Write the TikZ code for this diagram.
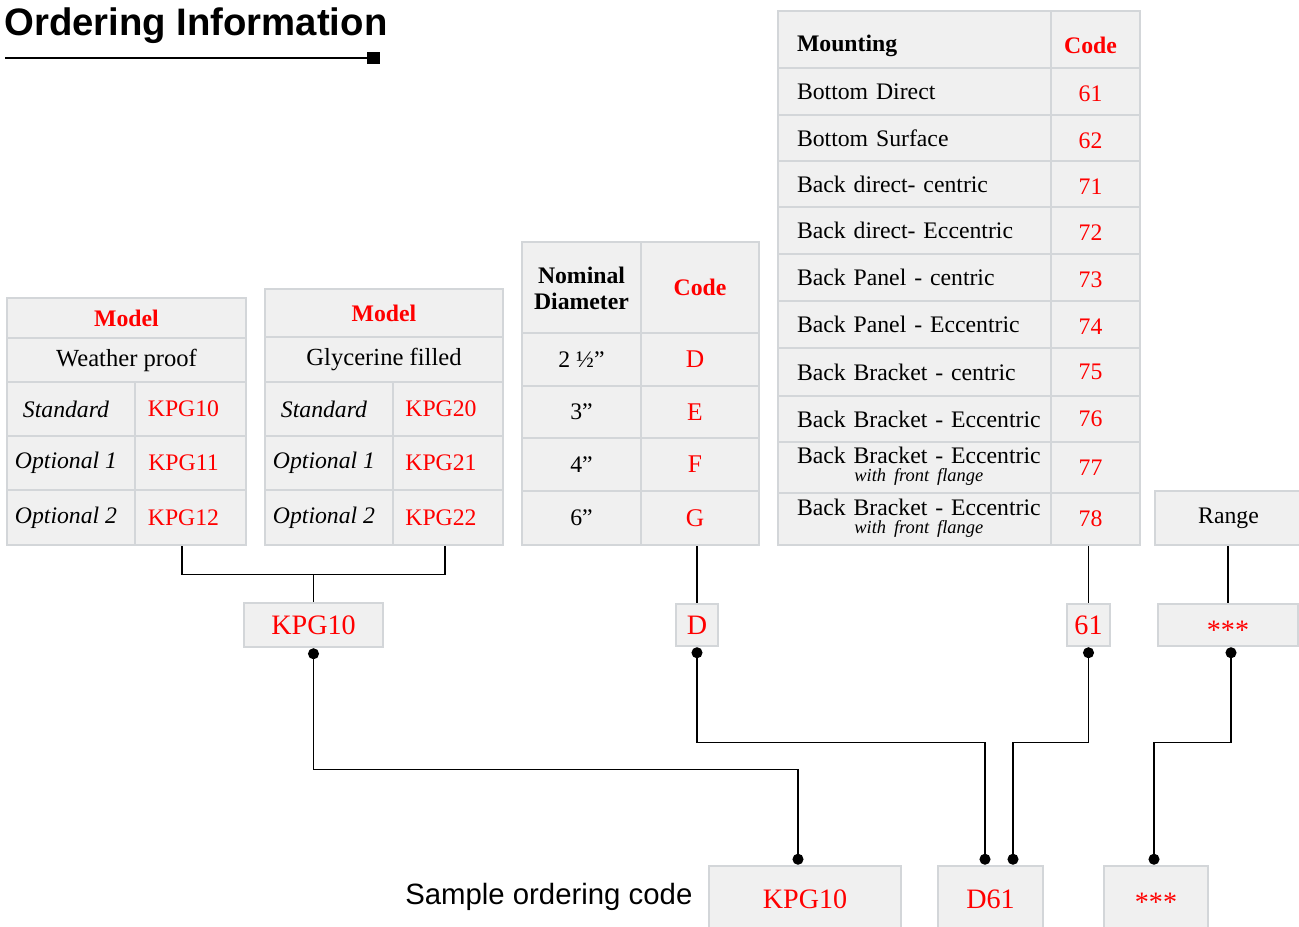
\documentclass[tikz,border=0pt]{standalone}
\usepackage{fontspec}
\setmainfont{Liberation Serif}
\newfontfamily\arialfont{Liberation Sans}
\usepackage{tikz}
\usetikzlibrary{arrows.meta, calc}

\definecolor{cellfill}{RGB}{240,240,240}
\definecolor{cellline}{RGB}{211,214,217}
\definecolor{codered}{RGB}{255,0,0}
\newcommand{\cellfont}{\fontsize{13.5}{15}\selectfont}
\newcommand{\midfont}{\fontsize{16}{18}\selectfont}
\newcommand{\dropby}[2]{\raisebox{-#1}[\height][\depth]{#2}}
\newcommand{\flange}[1]{\begin{tabular}{@{}c@{}}#1\\[-4.5pt]{\fontsize{10.5}{12}\selectfont\itshape with front flange}\end{tabular}}

\tikzset{
  nudge/.store in=\nudgeamt,
  cell/.style 2 args={draw=cellline, fill=cellfill, line width=0.5mm, inner sep=0pt,
    minimum width=#1, minimum height=#2, font=\cellfont, nudge=0mm,
    execute at end node={\hspace{\nudgeamt}}},
  mcell/.style={cell={54.6mm}{#1}, text width=54.6mm, align=left,
    execute at begin node={\hspace*{3.8mm}}},
  codetxt/.style={text=codered, nudge=2mm},
  codehead/.style={text=codered, font=\cellfont\bfseries},
  variant/.style={font=\cellfont\itshape, nudge=2mm},
  modelname/.style={font=\fontsize{14}{16}\selectfont},
  link/.style={line width=0.7pt},
  dotlink/.style={link, {Circle[length=2.2mm]}-{Circle[length=2.2mm]}},
}

\begin{document}
\begin{tikzpicture}[x=0.2mm, y=-0.2mm]
    \useasboundingbox (0,0) rectangle (1299,927);

    % title
    \node[anchor=base west, inner sep=0pt, font=\arialfont\bfseries\fontsize{21.8}{26}\selectfont] (title) at (4,36) {Ordering Information};
    \coordinate (ruleStart) at (5,58);
    \node[fill=black, minimum width=2.6mm, minimum height=2.4mm, inner sep=0pt] (ruleEnd) at (373.5,58) {};
    \draw[line width=0.5mm] (ruleStart) -- (ruleEnd.center);

    % weather proof
    \node[cell={47.8mm}{8mm}, codehead] (wpHead) at (126.5,318) {Model};
    \node[cell={47.8mm}{8.8mm}, modelname] (wpName) at (126.5,360) {Weather proof};
    \node[cell={25.6mm}{10.8mm}, variant] (wpStd) at (71,409) {Standard};
    \node[cell={22.2mm}{10.8mm}, codetxt, nudge=2.8mm] (wpStdCode) at (190.5,409) {KPG10};
    \node[cell={25.6mm}{10.8mm}, variant] (wpOptA) at (71,463) {Optional 1};
    \node[cell={22.2mm}{10.8mm}, codetxt, nudge=2.8mm] (wpOptACode) at (190.5,463) {KPG11};
    \node[cell={25.6mm}{11mm}, variant] (wpOptB) at (71,517.5) {Optional 2};
    \node[cell={22.2mm}{11mm}, codetxt, nudge=2.8mm] (wpOptBCode) at (190.5,517.5) {KPG12};

    % glycerine filled
    \node[cell={47.6mm}{9.6mm}, codehead] (gfHead) at (384,313) {Model};
    \node[cell={47.6mm}{9mm}, modelname] (gfName) at (384,359.5) {Glycerine filled};
    \node[cell={25.6mm}{10.8mm}, variant] (gfStd) at (329,409) {Standard};
    \node[cell={22mm}{10.8mm}, codetxt, nudge=2.8mm] (gfStdCode) at (448,409) {KPG20};
    \node[cell={25.6mm}{10.8mm}, variant] (gfOptA) at (329,463) {Optional 1};
    \node[cell={22mm}{10.8mm}, codetxt, nudge=2.8mm] (gfOptACode) at (448,463) {KPG21};
    \node[cell={25.6mm}{11mm}, variant] (gfOptB) at (329,517.5) {Optional 2};
    \node[cell={22mm}{11mm}, codetxt, nudge=2.8mm] (gfOptBCode) at (448,517.5) {KPG22};

    % nominal diameter
    \node[cell={23.8mm}{18.2mm}, font=\fontsize{13.5}{14.7}\selectfont\bfseries] (ndHead) at (581.5,287.5) {\dropby{0.8mm}{\begin{tabular}{@{}c@{}}Nominal\\Diameter\end{tabular}}};
    \node[cell={23.6mm}{18.2mm}, codehead] (ndHeadCode) at (700,287.5) {Code};
    \node[cell={23.8mm}{10.6mm}] (ndA) at (581.5,359.5) {2 ½”};
    \node[cell={23.6mm}{10.6mm}, codetxt, font=\fontsize{14.5}{16}\selectfont] (ndACode) at (700,359.5) {D};
    \node[cell={23.8mm}{10.4mm}] (ndB) at (581.5,412) {3”};
    \node[cell={23.6mm}{10.4mm}, codetxt, font=\fontsize{14.5}{16}\selectfont] (ndBCode) at (700,412) {E};
    \node[cell={23.8mm}{10.6mm}] (ndC) at (581.5,464.5) {4”};
    \node[cell={23.6mm}{10.6mm}, codetxt, font=\fontsize{14.5}{16}\selectfont] (ndCCode) at (700,464.5) {F};
    \node[cell={23.8mm}{10.8mm}] (ndD) at (581.5,518) {6”};
    \node[cell={23.6mm}{10.8mm}, codetxt, font=\fontsize{14.5}{16}\selectfont] (ndDCode) at (700,518) {G};

    % mounting
    \node[mcell=11.4mm, font=\cellfont\bfseries] (mtHead) at (914.5,39.5) {\dropby{1.2mm}{Mounting}};
    \node[cell={17.8mm}{11.4mm}, codehead, nudge=2mm] (mtHeadCode) at (1095.5,39.5) {\dropby{1.2mm}{Code}};
    \node[mcell=9.4mm] (mtA) at (914.5,91.5) {Bottom Direct};
    \node[cell={17.8mm}{9.4mm}, codetxt] (mtACode) at (1095.5,91.5) {\dropby{0.5mm}{61}};
    \node[mcell=9.2mm] (mtB) at (914.5,138) {Bottom Surface};
    \node[cell={17.8mm}{9.2mm}, codetxt] (mtBCode) at (1095.5,138) {\dropby{0.5mm}{62}};
    \node[mcell=9.2mm] (mtC) at (914.5,184) {Back direct- centric};
    \node[cell={17.8mm}{9.2mm}, codetxt] (mtCCode) at (1095.5,184) {\dropby{0.5mm}{71}};
    \node[mcell=9.4mm] (mtD) at (914.5,230.5) {Back direct- Eccentric};
    \node[cell={17.8mm}{9.4mm}, codetxt] (mtDCode) at (1095.5,230.5) {\dropby{0.5mm}{72}};
    \node[mcell=9.4mm] (mtE) at (914.5,277.5) {Back Panel - centric};
    \node[cell={17.8mm}{9.4mm}, codetxt] (mtECode) at (1095.5,277.5) {\dropby{0.5mm}{73}};
    \node[mcell=9.4mm] (mtF) at (914.5,324.5) {Back Panel - Eccentric};
    \node[cell={17.8mm}{9.4mm}, codetxt] (mtFCode) at (1095.5,324.5) {\dropby{0.5mm}{74}};
    \node[mcell=9.6mm] (mtG) at (914.5,372) {Back Bracket - centric};
    \node[cell={17.8mm}{9.6mm}, codetxt] (mtGCode) at (1095.5,372) {75};
    \node[mcell=9.2mm] (mtH) at (914.5,419) {Back Bracket - Eccentric};
    \node[cell={17.8mm}{9.2mm}, codetxt] (mtHCode) at (1095.5,419) {76};
    \node[mcell=10.2mm] (mtI) at (914.5,467.5) {\flange{Back Bracket - Eccentric}};
    \node[cell={17.8mm}{10.2mm}, codetxt] (mtICode) at (1095.5,467.5) {77};
    \node[mcell=10.4mm] (mtJ) at (914.5,519) {\flange{Back Bracket - Eccentric}};
    \node[cell={17.8mm}{10.4mm}, codetxt] (mtJCode) at (1095.5,519) {78};

    % range
    \node[cell={29.4mm}{10.8mm}] (range) at (1228.5,518) {Range};

    % picked codes
    \node[cell={27.8mm}{8.8mm}, codetxt, nudge=0mm, font=\midfont] (mKPG) at (313.5,625) {KPG10};
    \node[cell={8.4mm}{8.4mm}, codetxt, nudge=0mm, font=\midfont] (mD) at (697,625) {D};
    \node[cell={8.6mm}{8.4mm}, codetxt, nudge=0mm, font=\midfont] (mMount) at (1088.5,625) {61};
    \node[cell={28mm}{8.4mm}, codetxt, nudge=0mm, font=\midfont] (mRange) at (1228,625) {\dropby{1mm}{***}};

    % sample code
    \node[cell={38.4mm}{13.2mm}, codetxt, nudge=0mm, font=\midfont] (fKPG) at (805,899) {KPG10};
    \node[cell={21mm}{13.2mm}, codetxt, nudge=0mm, font=\midfont] (fD) at (990.5,899) {D61};
    \node[cell={20.8mm}{13.2mm}, codetxt, nudge=0mm, font=\midfont] (fRange) at (1156,899) {\dropby{0.6mm}{***}};
    \node[anchor=east, inner sep=0pt, font=\arialfont\fontsize{16.7}{20}\selectfont] (sample) at ([xshift=-3mm,yshift=0.5mm]fKPG.west) {Sample ordering code};

    % table to code
    \draw[link] ([xshift=-1.7mm]wpOptBCode.south) -- ++(0,28) coordinate (brace) -| ([xshift=-0.6mm]gfOptBCode.south);
    \draw[link] (mKPG.north |- brace) -- (mKPG.north);
    \draw[link] (mD.north |- ndDCode.south) -- (mD.north);
    \draw[link] (mMount.north |- mtJCode.south) -- (mMount.north);
    \draw[link] (mRange.north |- range.south) -- (mRange.north);

    % code to sample
    \draw[dotlink] (mKPG.south) -- ++(0,121) -| ([xshift=-1.4mm]fKPG.north);
    \draw[dotlink] (mD.south) -- ++(0,95) -| ([xshift=-1.1mm]fD.north);
    \draw[dotlink] (mMount.south) -- ++(0,95) -| ([xshift=4.5mm]fD.north);
    \draw[dotlink] ([xshift=0.6mm]mRange.south) -- ++(0,95) -| ([xshift=-0.4mm]fRange.north);
\end{tikzpicture}
\end{document}
